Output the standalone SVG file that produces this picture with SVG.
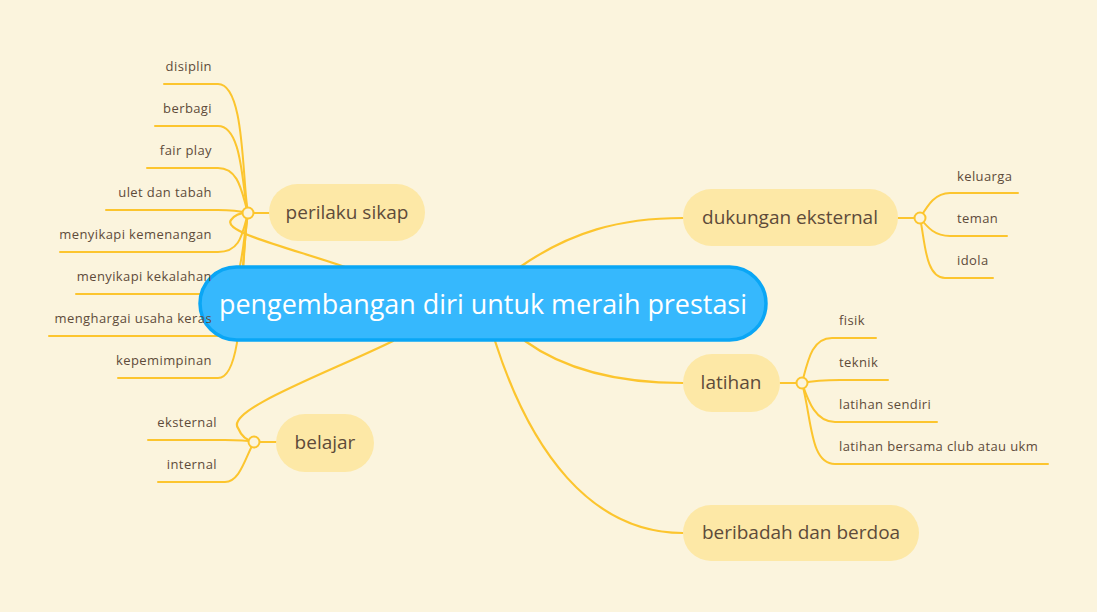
<svg xmlns="http://www.w3.org/2000/svg" width="1097" height="612" viewBox="0 0 1097 612">
<style>
.bg{fill:#fbf4dd}
.ln{fill:none;stroke:#fcc52e;stroke-width:2;stroke-linecap:round}
.main{fill:none;stroke:#fcc52e;stroke-width:2.2;stroke-linecap:round}
.dot{fill:#fbf4dd;stroke:#fcc52e;stroke-width:2}
.sub rect{fill:#fde8a6}
.sub text{font-family:"Open Sans","Liberation Sans",sans-serif;font-size:19px;fill:#5e4b3a;text-anchor:middle}
.leaf{font-family:"Open Sans","Liberation Sans",sans-serif;font-size:13px;letter-spacing:0.4px;fill:#5e4b3a}
.r{text-anchor:end}
</style>
<rect class="bg" x="0" y="0" width="1097" height="612"/>
<g id="connectors">
<path class="main" d="M345 267 C290 248 222 232 231 220 Q237 212 248 213"/>
<path class="main" d="M393 341 C330 372 225 410 238 428 Q243 440 254 442"/>
<path class="main" d="M520 267 C570 232 620 218 683 218"/>
<path class="main" d="M525 341 C565 370 620 383 683 383"/>
<path class="main" d="M495 341 C530 450 590 533 683 533"/>
<path class="ln" d="M254 213 H269"/>
<path class="ln" d="M898 218 H914"/>
<path class="ln" d="M780 383 H796"/>
<path class="ln" d="M260 442 H276"/>
<path class="ln" d="M248 213 C242 180 245 84 218 84 H164"/>
<path class="ln" d="M248 213 C242 190 243 126 218 126 H155"/>
<path class="ln" d="M248 213 C242 195 240 168 218 168 H147"/>
<path class="ln" d="M248 213 C240 211 230 210 218 210 H106"/>
<path class="ln" d="M248 213 C242 235 240 252 218 252 H60"/>
<path class="ln" d="M248 213 C242 240 244 294 218 294 H76"/>
<path class="ln" d="M248 213 C242 250 244 336 218 336 H49"/>
<path class="ln" d="M248 213 C240 260 246 378 218 378 H118"/>
<path class="ln" d="M920 218 C928 205 935 193 950 193 H1018"/>
<path class="ln" d="M920 218 C928 228 935 236 950 236 H1007"/>
<path class="ln" d="M920 218 C925 240 925 278 945 278 H993"/>
<path class="ln" d="M802 383 C808 360 812 338 832 338 H876"/>
<path class="ln" d="M802 383 C812 381 820 380 840 380 H888"/>
<path class="ln" d="M802 383 C808 400 815 422 835 422 H937"/>
<path class="ln" d="M802 383 C812 420 810 464 835 464 H1048"/>
<path class="ln" d="M254 442 C245 440 235 440 225 440 H148"/>
<path class="ln" d="M254 442 C245 458 240 482 225 482 H158"/>
<circle class="dot" cx="248" cy="213" r="5.5"/>
<circle class="dot" cx="920" cy="218" r="5.5"/>
<circle class="dot" cx="802" cy="383" r="5.5"/>
<circle class="dot" cx="254" cy="442" r="5.5"/>
</g>
<g id="center">
<rect x="200" y="267" width="566" height="73" rx="36.5" fill="#36b8fd" stroke="#0aa6f5" stroke-width="3.5"/>
<text x="483" y="314" font-family="'Open Sans','Liberation Sans',sans-serif" font-size="28" fill="#ffffff" text-anchor="middle" textLength="528" lengthAdjust="spacingAndGlyphs">pengembangan diri untuk meraih prestasi</text>
</g>
<g id="perilaku-sikap" class="sub">
<rect x="269" y="184" width="156" height="57" rx="28.5"/>
<text x="347" y="219">perilaku sikap</text>
</g>
<g id="dukungan-eksternal" class="sub">
<rect x="683" y="189" width="215" height="57" rx="28.5"/>
<text x="790" y="224">dukungan eksternal</text>
</g>
<g id="latihan" class="sub">
<rect x="683" y="354" width="97" height="58" rx="29"/>
<text x="731" y="389">latihan</text>
</g>
<g id="beribadah" class="sub">
<rect x="683" y="505" width="236" height="56" rx="28"/>
<text x="801" y="539">beribadah dan berdoa</text>
</g>
<g id="belajar" class="sub">
<rect x="276" y="414" width="98" height="58" rx="29"/>
<text x="325" y="449">belajar</text>
</g>
<g id="leaf-disiplin"><text class="leaf r" x="212" y="71">disiplin</text></g>
<g id="leaf-berbagi"><text class="leaf r" x="212" y="113">berbagi</text></g>
<g id="leaf-fairplay"><text class="leaf r" x="212" y="155">fair play</text></g>
<g id="leaf-ulet"><text class="leaf r" x="212" y="197">ulet dan tabah</text></g>
<g id="leaf-menang"><text class="leaf r" x="212" y="239">menyikapi kemenangan</text></g>
<g id="leaf-kalah"><text class="leaf r" x="212" y="281">menyikapi kekalahan</text></g>
<g id="leaf-usaha"><text class="leaf r" x="212" y="323">menghargai usaha keras</text></g>
<g id="leaf-pimpin"><text class="leaf r" x="212" y="365">kepemimpinan</text></g>
<g id="leaf-keluarga"><text class="leaf" x="957" y="181">keluarga</text></g>
<g id="leaf-teman"><text class="leaf" x="957" y="223">teman</text></g>
<g id="leaf-idola"><text class="leaf" x="957" y="265">idola</text></g>
<g id="leaf-fisik"><text class="leaf" x="839" y="325">fisik</text></g>
<g id="leaf-teknik"><text class="leaf" x="839" y="367">teknik</text></g>
<g id="leaf-sendiri"><text class="leaf" x="839" y="409">latihan sendiri</text></g>
<g id="leaf-club"><text class="leaf" x="839" y="451">latihan bersama club atau ukm</text></g>
<g id="leaf-eksternal"><text class="leaf r" x="217" y="427">eksternal</text></g>
<g id="leaf-internal"><text class="leaf r" x="217" y="469">internal</text></g>
</svg>
